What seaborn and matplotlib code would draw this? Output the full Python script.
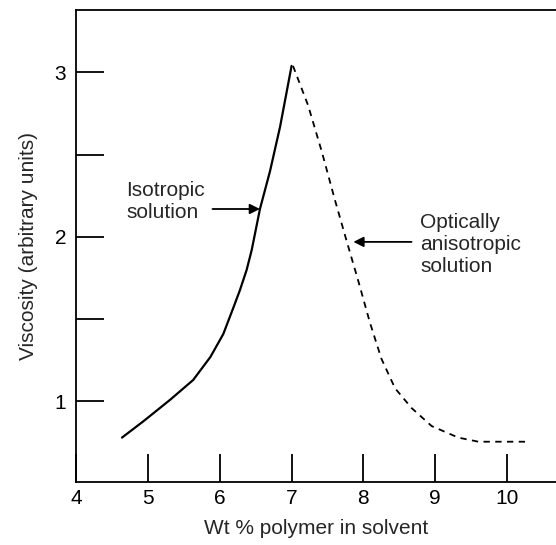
import matplotlib
matplotlib.use("Agg")
import matplotlib.pyplot as plt
import seaborn as sns
import pandas as pd

# values
iso_x = [4.64, 4.94, 5.31, 5.63, 5.87, 6.05, 6.12, 6.19, 6.28, 6.375, 6.445,
         6.56, 6.70, 6.84, 7.00]
iso_y = [0.78, 0.88, 1.01, 1.13, 1.27, 1.41, 1.49, 1.57, 1.675, 1.80, 1.92,
         2.17, 2.40, 2.67, 3.04]

aniso_x = [7.02, 7.23, 7.42, 7.60, 7.77, 7.93, 8.09, 8.25, 8.44, 8.67, 8.95,
           9.32, 9.60, 10.29]
aniso_y = [3.04, 2.80, 2.52, 2.23, 1.97, 1.73, 1.48, 1.26, 1.08, 0.96, 0.85,
           0.78, 0.755, 0.755]

x_ticks = [4, 5, 6, 7, 8, 9, 10]
y_major = [1, 2, 3]
y_minor = [1.5, 2.5]

sns.set_style("ticks")
plt.rcParams['font.family'] = ['Liberation Sans', 'DejaVu Sans']

iso = pd.DataFrame({'x': iso_x, 'y': iso_y})
aniso = pd.DataFrame({'x': aniso_x, 'y': aniso_y})

fig = plt.figure(figsize=(5.56, 5.45), dpi=100)
ax = fig.add_axes([76/556, 63/545, 1 - 76/556, 472/545])

sns.lineplot(data=iso, x='x', y='y', color='black', lw=1.6, ax=ax)
sns.lineplot(data=aniso, x='x', y='y', color='black', lw=1.3, ax=ax,
             linestyle=(0, (3.5, 3)))

ax.set_xlim(4, 10.68)
ax.set_ylim(0.51, 3.38)
ax.set_xticks(x_ticks)
ax.set_yticks(y_major)
ax.set_yticks(y_minor, minor=True)
ax.tick_params(which='both', direction='in', length=20, width=1.3,
               labelsize=15, colors='black')
ax.tick_params(axis='x', pad=5)
ax.tick_params(axis='y', pad=7)
for s in ['left', 'bottom', 'top']:
    ax.spines[s].set_linewidth(1.3)
    ax.spines[s].set_color('black')
ax.spines['right'].set_visible(False)

ax.set_xlabel('Wt % polymer in solvent', fontsize=15, labelpad=8)
ax.set_ylabel('Viscosity (arbitrary units)', fontsize=15, labelpad=12)

ax.annotate('', xy=(6.56, 2.17), xytext=(5.90, 2.17),
            arrowprops=dict(arrowstyle='-|>', color='black', lw=1.3,
                            mutation_scale=15, shrinkA=0, shrinkB=0))
ax.text(4.70, 2.34, 'Isotropic\nsolution', fontsize=15, ha='left', va='top',
        linespacing=1.2)

ax.annotate('', xy=(7.86, 1.97), xytext=(8.67, 1.97),
            arrowprops=dict(arrowstyle='-|>', color='black', lw=1.3,
                            mutation_scale=15, shrinkA=0, shrinkB=0))
ax.text(8.79, 2.145, 'Optically\nanisotropic\nsolution', fontsize=15,
        ha='left', va='top', linespacing=1.2)

fig.savefig('out.png', dpi=100)
